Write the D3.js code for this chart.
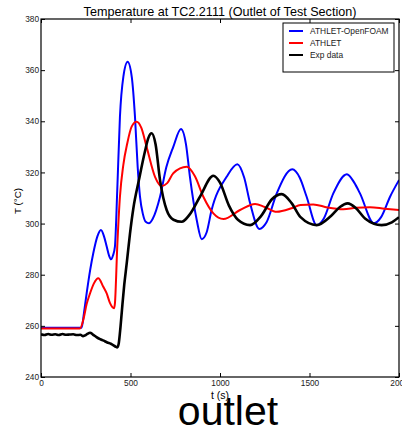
<!DOCTYPE html>
<html>
<head>
<meta charset="utf-8">
<script src="https://cdn.jsdelivr.net/npm/d3@7"></script>
<style>
  body { margin: 0; background: white; }
  text { font-family: "Liberation Sans", Arial, sans-serif; }
</style>
</head>
<body>
<div id="container"></div>
<script>
const X_TICKS = [0, 500, 1000, 1500, 2000]
const Y_TICKS = [240, 260, 280, 300, 320, 340, 360, 380]

// ATHLET-OpenFOAM
const openfoam_t = [0, 227, 240, 255, 275, 292, 315, 335, 352, 367, 380, 391, 402, 413, 426, 441, 460, 484, 507, 525, 540, 553, 570, 585, 603, 625, 665, 700, 739, 782, 810, 832, 870, 898, 925, 953, 1037, 1097, 1135, 1168, 1220, 1260, 1317, 1404, 1445, 1484, 1540, 1580, 1633, 1709, 1750, 1782, 1860, 1900, 1950, 2000]
const openfoam_T = [259.3, 259.3, 265, 272.7, 282, 288.4, 295, 297.5, 295, 291, 287.5, 286, 287.5, 291, 313, 341.8, 357.4, 363.3, 357.4, 341.8, 322.2, 310.5, 303.5, 300.7, 300.1, 302, 310.5, 322, 330, 337, 331, 318.3, 301.4, 293.9, 296.5, 305.3, 318.3, 323.2, 318, 308, 297.9, 300.5, 311.8, 321.2, 318, 310.5, 299.4, 302, 311.8, 319.3, 316, 311.8, 300.1, 302.5, 310.5, 317]

// ATHLET
const athlet_t = [0, 218, 236, 255, 274, 295, 320, 348, 367, 385, 408, 413, 426, 441, 460, 482, 507, 534, 560, 590, 637, 674, 705, 739, 814, 860, 907, 963, 1019, 1112, 1196, 1250, 1317, 1400, 1450, 1521, 1600, 1689, 1760, 1838, 1920, 2000]
const athlet_T = [259, 259, 262.3, 268.5, 272.7, 276.5, 278.6, 275.3, 272.7, 269, 266.9, 268.8, 291, 310.5, 323, 331.4, 338, 339.8, 337.5, 330, 318.3, 314.7, 315.8, 319.7, 322.2, 318.5, 310.5, 304, 301.8, 305.3, 307.7, 306.5, 304.6, 306, 307.3, 307.5, 306.3, 305.6, 306.2, 306.4, 305.8, 305.3]

// Exp data
const exp_t = [0, 20, 40, 60, 80, 100, 120, 140, 160, 180, 200, 220, 235, 250, 262, 274, 290, 310, 330, 350, 370, 390, 405, 418, 426, 434, 442, 452, 465, 479, 497, 516, 547, 580, 600, 618, 640, 665, 702, 740, 786, 830, 888, 963, 1000, 1050, 1100, 1168, 1230, 1290, 1345, 1400, 1450, 1540, 1620, 1670, 1713, 1760, 1810, 1903, 1960, 2000]
const exp_T = [256.7, 256.4, 256.8, 256.5, 256.7, 256.4, 256.8, 256.5, 256.6, 256.7, 256.4, 256.5, 256.0, 256.4, 257.0, 257.3, 256.6, 255.6, 254.8, 254.2, 253.5, 253.0, 252.4, 251.8, 251.6, 253, 258, 266, 276, 284.5, 296, 306, 317, 328, 333.5, 335.3, 331, 317, 305.3, 301.5, 300.7, 303.5, 310.5, 318.7, 316, 307, 301.5, 299.4, 303, 309.5, 311.5, 308, 302.5, 299.4, 303, 306.5, 307.9, 306, 302, 299.4, 300.5, 302.5]

const SERIES_NAMES = ['ATHLET-OpenFOAM', 'ATHLET', 'Exp data']
const SERIES_COLORS = ['#0000ff', '#ff0000', '#000000']

var width = 402
var height = 430
var margin = {left: 41, right: 3, top: 19, bottom: 53}

var svg = d3.select('#container').append('svg')
    .attr('width', width)
    .attr('height', height)

var x = d3.scaleLinear().domain([0, 2000]).range([margin.left, width - margin.right])
var y = d3.scaleLinear().domain([240, 380]).range([height - margin.bottom, margin.top])

var series = [
    {name: SERIES_NAMES[0], color: SERIES_COLORS[0], width: 2, t: openfoam_t, T: openfoam_T},
    {name: SERIES_NAMES[1], color: SERIES_COLORS[1], width: 2, t: athlet_t, T: athlet_T},
    {name: SERIES_NAMES[2], color: SERIES_COLORS[2], width: 2.6, t: exp_t, T: exp_T}
]

var line = d3.line()
    .x(d => x(d[0]))
    .y(d => y(d[1]))
    .curve(d3.curveMonotoneX)

svg.append('clipPath').attr('id', 'clip')
    .append('rect')
    .attr('x', x(0)).attr('y', y(380))
    .attr('width', x(2000) - x(0)).attr('height', y(240) - y(380))

var plot = svg.append('g').attr('clip-path', 'url(#clip)')
series.forEach(function(s) {
    plot.append('path')
        .datum(s.t.map((t, i) => [t, s.T[i]]))
        .attr('fill', 'none')
        .attr('stroke', s.color)
        .attr('stroke-width', s.width)
        .attr('stroke-linejoin', 'round')
        .attr('d', line)
})

// axes, ticks inside on all four sides
var tickLen = 4
svg.append('g')
    .attr('transform', 'translate(0,' + y(240) + ')')
    .call(d3.axisBottom(x).tickValues(X_TICKS).tickSize(-tickLen).tickPadding(3).tickFormat(d3.format('d')))
svg.append('g')
    .attr('transform', 'translate(0,' + y(380) + ')')
    .call(d3.axisTop(x).tickValues(X_TICKS).tickSize(-tickLen).tickFormat(''))
svg.append('g')
    .attr('transform', 'translate(' + x(0) + ',0)')
    .call(d3.axisLeft(y).tickValues(Y_TICKS).tickSize(-tickLen).tickPadding(2).tickFormat(d3.format('d')))
svg.append('g')
    .attr('transform', 'translate(' + x(2000) + ',0)')
    .call(d3.axisRight(y).tickValues(Y_TICKS).tickSize(-tickLen).tickFormat(''))

svg.selectAll('.domain').remove()
svg.selectAll('.tick line').attr('stroke', '#000').attr('stroke-width', 1)
svg.selectAll('.tick text').attr('font-size', '8.3px').attr('fill', '#222')

svg.append('rect')
    .attr('x', x(0)).attr('y', y(380))
    .attr('width', x(2000) - x(0)).attr('height', y(240) - y(380))
    .attr('fill', 'none').attr('stroke', '#000').attr('stroke-width', 1.2)

// legend
var legend = svg.append('g').attr('transform', 'translate(283,23)')
legend.append('rect')
    .attr('width', 111).attr('height', 49)
    .attr('fill', 'white').attr('stroke', '#000').attr('stroke-width', 1)
series.forEach(function(s, i) {
    var ly = 8 + i * 12
    legend.append('line')
        .attr('x1', 6).attr('x2', 20).attr('y1', ly).attr('y2', ly)
        .attr('stroke', s.color).attr('stroke-width', 2)
    legend.append('text')
        .attr('x', 27).attr('y', ly + 3)
        .attr('font-size', '8.4px').attr('fill', '#222')
        .text(s.name)
})

// titles
svg.append('text')
    .attr('x', (x(0) + x(2000)) / 2).attr('y', 16)
    .attr('text-anchor', 'middle').attr('font-size', '12.6px')
    .text('Temperature at TC2.2111 (Outlet of Test Section)')
svg.append('text')
    .attr('x', (x(0) + x(2000)) / 2).attr('y', 399)
    .attr('text-anchor', 'middle').attr('font-size', '10.5px')
    .text('t (s)')
svg.append('text')
    .attr('transform', 'translate(21,201) rotate(-90)')
    .attr('text-anchor', 'middle').attr('font-size', '9.8px')
    .text('T (°C)')
svg.append('text')
    .attr('x', 228).attr('y', 425)
    .attr('text-anchor', 'middle').attr('font-size', '41px')
    .text('outlet')
</script>
</body>
</html>
